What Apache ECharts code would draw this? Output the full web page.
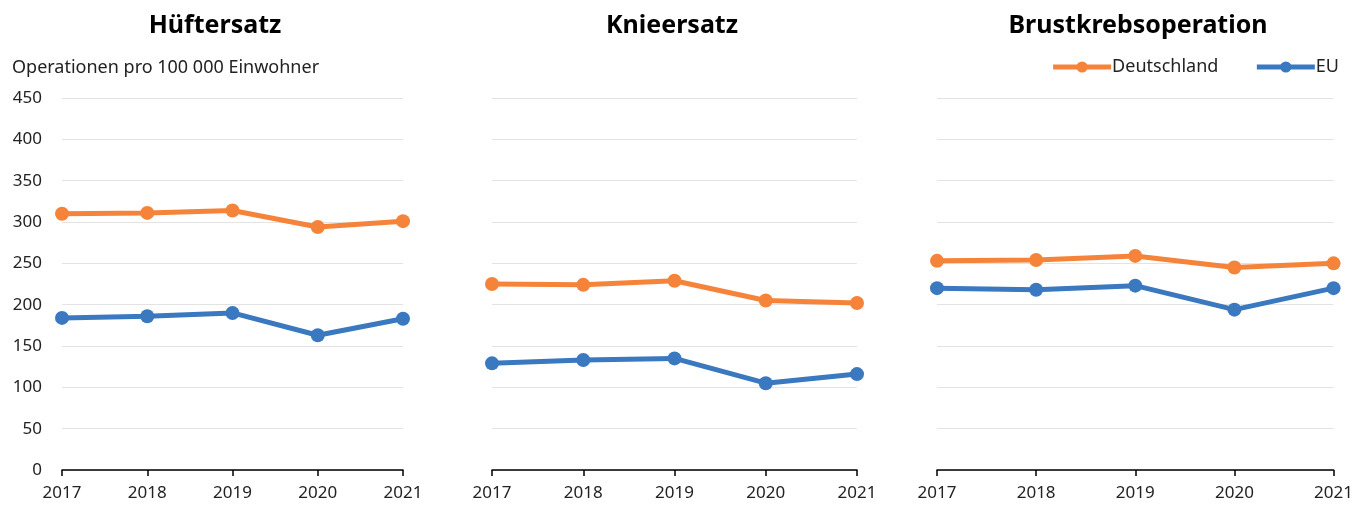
<!DOCTYPE html>
<html><head><meta charset="utf-8">
<script src="https://cdn.jsdelivr.net/npm/echarts@6/dist/echarts.min.js"></script>
<style>html,body{margin:0;padding:0;background:#fff}#c{width:1356px;height:506px}</style>
</head><body><div id="c"></div>
<script>
const years = ['2017','2018','2019','2020','2021'];
const panelTitles = ['Hüftersatz','Knieersatz','Brustkrebsoperation'];
const yTicks = [0,50,100,150,200,250,300,350,400,450];
const deHuefte = [310, 311, 314, 294, 301];
const euHuefte = [184, 186, 190, 163, 183];
const deKnie = [225, 224, 229, 205, 202];
const euKnie = [129, 133, 135, 105, 116];
const deBrust = [253, 254, 259, 245, 250];
const euBrust = [220, 218, 223, 194, 220];

const FONT = '"Noto Sans", sans-serif';
const ORANGE = '#F5843A', BLUE = '#3A78BF';
const grids = [
  {left:62, width:341, top:98, bottom:36},
  {left:492, width:365, top:98, bottom:36},
  {left:937, width:399, top:98, bottom:36}
];
const titleCenters = [210, 667, 1133];
const deData = [deHuefte, deKnie, deBrust];
const euData = [euHuefte, euKnie, euBrust];

const option = {
  animation:false,
  textStyle:{fontFamily:FONT},
  title: panelTitles.map((t,i)=>({text:t, left:titleCenters[i], top:8, textAlign:'center',
    textStyle:{fontFamily:FONT, fontWeight:'bold', fontSize:25, color:'#000'}}))
    .concat([{text:'Operationen pro 100 000 Einwohner', left:7, top:54,
      textStyle:{fontFamily:FONT, fontWeight:'normal', fontSize:18, color:'#222'}}]),
  legend:{right:12, top:53, itemWidth:58, itemHeight:14, itemGap:36,
    lineStyle:{width:5},
    textStyle:{fontFamily:FONT, fontSize:18, color:'#222', padding:[0,0,0,-4]},
    data:['Deutschland','EU']},
  grid: grids,
  xAxis: grids.map((g,i)=>({type:'category', gridIndex:i, data:years, boundaryGap:false,
    axisLine:{lineStyle:{color:'#000', width:1.5}},
    axisTick:{show:true, length:6, lineStyle:{color:'#000', width:1.5}},
    axisLabel:{fontFamily:FONT, fontSize:17, color:'#222', margin:15}})),
  yAxis: grids.map((g,i)=>({type:'value', gridIndex:i, min:yTicks[0], max:yTicks[yTicks.length-1], interval:50,
    axisLine:{show:false}, axisTick:{show:false},
    splitLine:{lineStyle:{color:'#e3e3e3', width:1}},
    axisLabel:{show:i===0, fontFamily:FONT, fontSize:17, color:'#222', margin:20}})),
  series: []
};
for (let i=0;i<3;i++){
  option.series.push({name:'Deutschland', type:'line', xAxisIndex:i, yAxisIndex:i, data:deData[i],
    symbol:'circle', symbolSize:14, lineStyle:{color:ORANGE, width:5}, itemStyle:{color:ORANGE}, z:3});
  option.series.push({name:'EU', type:'line', xAxisIndex:i, yAxisIndex:i, data:euData[i],
    symbol:'circle', symbolSize:14, lineStyle:{color:BLUE, width:5}, itemStyle:{color:BLUE}, z:3});
}
const chart = echarts.init(document.getElementById('c'));
chart.setOption(option);
</script></body></html>
